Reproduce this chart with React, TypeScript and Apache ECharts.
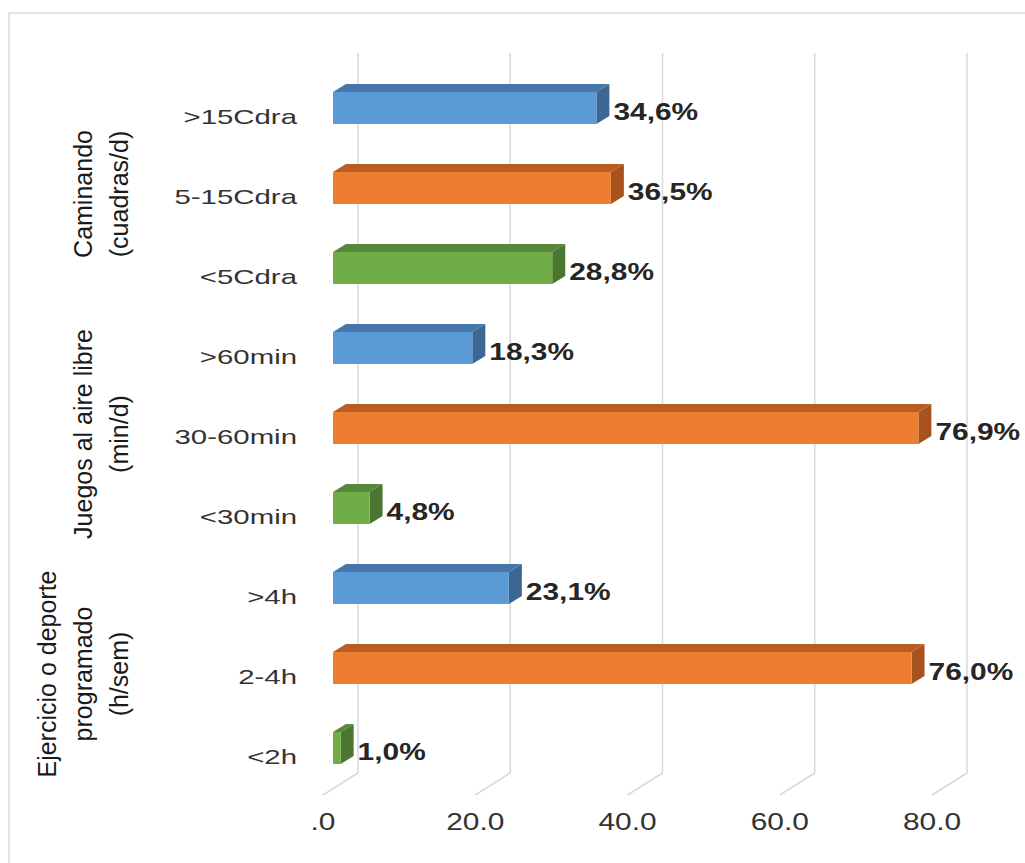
import React, { useEffect, useRef } from "react";
import * as echarts from "echarts";

// Activity categories (top to bottom) and their shares in percent
const categories = [">15Cdra", "5-15Cdra", "<5Cdra", ">60min", "30-60min", "<30min", ">4h", "2-4h", "<2h"];
const values = [34.6, 36.5, 28.8, 18.3, 76.9, 4.8, 23.1, 76.0, 1.0];
// colour slot per bar: 0 = high, 1 = middle, 2 = low
const colorSlots = [0, 1, 2, 0, 1, 2, 0, 1, 2];

// Value axis ticks
const tickValues = [0, 20, 40, 60, 80];
const tickLabels = [".0", "20.0", "40.0", "60.0", "80.0"];

// Group titles and the category each one is centred on
const groupLabels = ["Caminando\n(cuadras/d)", "Juegos al aire libre\n(min/d)", "Ejercicio o deporte\nprogramado\n(h/sem)"];
const groupCenters = [1, 4, 7];

// Face colours: [front, top, side]
const PALETTE = [
  ["#5b9bd5", "#4677a8", "#3c6792"],
  ["#ed7d31", "#ba5d22", "#a8531d"],
  ["#70ad47", "#56873a", "#4a762f"],
];

// Pseudo-3D geometry (pixels)
const BAR_DX = 13;
const BAR_DY = 8;
const BACK_DX = 25;
const BACK_DY = 15;
const FRONT_DX = 10;
const FRONT_DY = 7;
const FONT = "'Liberation Sans', Arial, sans-serif";

const fmtPct = (v: number) => v.toFixed(1).replace(".", ",") + "%";

export default function App() {
  const ref = useRef<HTMLDivElement>(null);

  useEffect(() => {
    document.body.style.margin = "0";
    if (!ref.current) return;
    const chart = echarts.init(ref.current, null, { renderer: "svg" });

    const lastCat = categories.length - 1;

    const option: any = {
      animation: false,
      backgroundColor: "#ffffff",
      grid: { left: 333, top: 68, width: 609, height: 720 },
      xAxis: {
        type: "value",
        min: 0,
        max: 80,
        interval: 20,
        show: false,
      },
      yAxis: {
        type: "category",
        data: categories,
        inverse: true,
        show: false,
      },
      graphic: [
        {
          type: "rect",
          shape: { x: 9, y: 13, width: 1040, height: 880 },
          style: { fill: "none", stroke: "#d9d9d9", lineWidth: 1.5 },
          silent: true,
        },
      ],
      series: [
        // back wall + floor grid lines with tick labels
        {
          type: "custom",
          z: 1,
          clip: false,
          data: tickValues.map((v) => [v, 0]),
          renderItem: (params: any, api: any) => {
            const v = api.value(0);
            const band = api.size([0, 1])[1];
            const x = api.coord([v, 0])[0];
            const top = api.coord([v, 0])[1] - band / 2;
            const bottom = api.coord([v, lastCat])[1] + band / 2;
            return {
              type: "group",
              children: [
                {
                  type: "polyline",
                  shape: {
                    points: [
                      [x + BACK_DX, top - BACK_DY],
                      [x + BACK_DX, bottom - BACK_DY],
                      [x - FRONT_DX, bottom + FRONT_DY],
                    ],
                  },
                  style: { stroke: "#d9d9d9", lineWidth: 1.5, fill: "none" },
                },
                {
                  type: "text",
                  x: x - FRONT_DX,
                  y: bottom + 34,
                  scaleX: 1.3,
                  style: {
                    text: tickLabels[params.dataIndex],
                    x: 0,
                    y: 0,
                    align: "center",
                    verticalAlign: "middle",
                    fontFamily: FONT,
                    fontSize: 23,
                    fill: "#333333",
                  },
                },
              ],
            };
          },
        },
        // 3D bars with value labels
        {
          type: "custom",
          z: 2,
          clip: false,
          data: values.map((v, i) => [v, i, colorSlots[i]]),
          renderItem: (params: any, api: any) => {
            const v = api.value(0);
            const c = api.value(1);
            const col = PALETTE[api.value(2)];
            const p0 = api.coord([0, c]);
            const p1 = api.coord([v, c]);
            const h = api.size([0, 1])[1] * 0.4;
            const x0 = p0[0];
            const x1 = p1[0];
            const yT = p0[1] - h / 2;
            const yB = p0[1] + h / 2;
            return {
              type: "group",
              children: [
                {
                  type: "polygon",
                  shape: {
                    points: [
                      [x1, yT],
                      [x1 + BAR_DX, yT - BAR_DY],
                      [x1 + BAR_DX, yB - BAR_DY],
                      [x1, yB],
                    ],
                  },
                  style: { fill: col[2] },
                },
                {
                  type: "polygon",
                  shape: {
                    points: [
                      [x0, yT],
                      [x0 + BAR_DX, yT - BAR_DY],
                      [x1 + BAR_DX, yT - BAR_DY],
                      [x1, yT],
                    ],
                  },
                  style: { fill: col[1] },
                },
                {
                  type: "rect",
                  shape: { x: x0, y: yT, width: x1 - x0, height: yB - yT },
                  style: { fill: col[0] },
                },
                {
                  type: "text",
                  x: x1 + BAR_DX + 4,
                  y: p0[1] + 4,
                  scaleX: 1.3,
                  style: {
                    text: fmtPct(v),
                    x: 0,
                    y: 0,
                    align: "left",
                    verticalAlign: "middle",
                    fontFamily: FONT,
                    fontSize: 23,
                    fontWeight: "bold",
                    fill: "#262626",
                  },
                },
              ],
            };
          },
        },
        // category labels
        {
          type: "custom",
          z: 3,
          clip: false,
          data: categories.map((_, i) => [0, i]),
          renderItem: (params: any, api: any) => {
            const p = api.coord([0, api.value(1)]);
            return {
              type: "text",
              x: p[0] - 36,
              y: p[1] + 9,
              scaleX: 1.4,
              style: {
                text: categories[params.dataIndex],
                x: 0,
                y: 0,
                align: "right",
                verticalAlign: "middle",
                fontFamily: FONT,
                fontSize: 21,
                fill: "#333333",
              },
            };
          },
        },
        // group titles
        {
          type: "custom",
          z: 3,
          clip: false,
          data: groupCenters.map((c) => [0, c]),
          renderItem: (params: any, api: any) => {
            const p = api.coord([0, api.value(1)]);
            const lines = groupLabels[params.dataIndex].split("\n").length;
            return {
              type: "text",
              x: 119 - (lines - 1) * 18,
              y: p[1] + 6,
              rotation: Math.PI / 2,
              style: {
                text: groupLabels[params.dataIndex],
                x: 0,
                y: 0,
                align: "center",
                verticalAlign: "middle",
                lineHeight: 36,
                fontFamily: FONT,
                fontSize: 25,
                fill: "#1a1a1a",
              },
            };
          },
        },
      ],
    };

    chart.setOption(option);
    return () => chart.dispose();
  }, []);

  return <div ref={ref} style={{ width: 1025, height: 863 }} />;
}
